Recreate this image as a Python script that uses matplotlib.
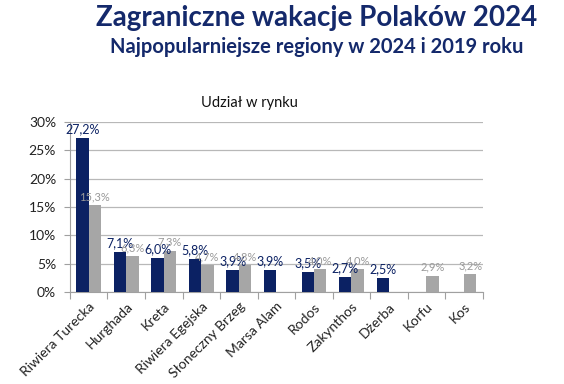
import numpy as np
from matplotlib import pyplot as plt

# dane (udział w rynku, %)
regiony = ['Riwiera Turecka', 'Hurghada', 'Kreta', 'Riwiera Egejska', 'Słoneczny Brzeg',
           'Marsa Alam', 'Rodos', 'Zakynthos', 'Dżerba', 'Korfu', 'Kos']
udzial_2024 = [27.2, 7.1, 6.0, 5.8, 3.9, 3.9, 3.5, 2.7, 2.5, None, None]
udzial_2019 = [15.3, 6.3, 7.3, 4.7, 4.8, None, 4.0, 4.0, None, 2.9, 3.2]
y_ticks = [0, 5, 10, 15, 20, 25, 30]

GRANAT = '#0b2163'
SZARY = '#a6a6a6'
SZARY_TXT = '#999999'

plt.rcParams['font.family'] = ['Lato', 'DejaVu Sans']


def fmt(v):
    return ('%.1f%%' % v).replace('.', ',')


def main():
    fig = plt.figure(figsize=(5.64, 3.84), dpi=100)
    ax = fig.add_axes([0.124, 0.2396, 0.732, 0.4427])

    x = np.arange(len(regiony))
    w = 0.33
    for i in x:
        if udzial_2024[i] is not None:
            ax.bar(i - w / 2, udzial_2024[i], w, color=GRANAT, zorder=3)
            ax.annotate(fmt(udzial_2024[i]), (i - w / 2, udzial_2024[i]), xytext=(0, 2),
                        textcoords='offset points', ha='center', va='bottom',
                        fontsize=9, color=GRANAT, zorder=4)
        if udzial_2019[i] is not None:
            ax.bar(i + w / 2, udzial_2019[i], w, color=SZARY, zorder=3)
            ax.annotate(fmt(udzial_2019[i]), (i + w / 2, udzial_2019[i]), xytext=(0, 2),
                        textcoords='offset points', ha='center', va='bottom',
                        fontsize=8, color=SZARY_TXT, zorder=4)

    ax.set_xlim(-0.5, len(regiony) - 0.5)
    ax.set_ylim(0, 30)
    ax.set_yticks(y_ticks)
    ax.set_yticklabels(['%d%%' % t for t in y_ticks], fontsize=10, color='#222222')
    ax.yaxis.grid(True, color='#b8b8b8', linewidth=0.9, zorder=0)

    # ticki osi x pomiędzy kategoriami, etykiety pod środkiem
    ax.set_xticks(np.arange(len(regiony) + 1) - 0.5)
    ax.set_xticklabels([])
    ax.set_xticks(x, minor=True)
    ax.set_xticklabels(regiony, minor=True, rotation=45, ha='right',
                       rotation_mode='anchor', fontsize=10, color='#222222')
    ax.tick_params(axis='x', which='major', length=5, color='#a0a0a0')
    ax.tick_params(axis='x', which='minor', length=0, pad=6)
    ax.tick_params(axis='y', length=4, color='#a0a0a0', pad=6)

    for s in ['top', 'right']:
        ax.spines[s].set_visible(False)
    ax.spines['left'].set_color('#a0a0a0')
    ax.spines['bottom'].set_color('#a0a0a0')

    fig.text(0.562, 0.953, 'Zagraniczne wakacje Polaków 2024', ha='center', va='center',
             fontsize=20, fontweight='bold', color='#14296b')
    fig.text(0.562, 0.878, 'Najpopularniejsze regiony w 2024 i 2019 roku', ha='center',
             va='center', fontsize=14.5, fontweight='bold', color='#14296b')
    fig.text(0.443, 0.732, 'Udział w rynku', ha='center', va='center',
             fontsize=10.5, color='#111111')

    fig.savefig('out.png', dpi=100)


if __name__ == '__main__':
    main()
